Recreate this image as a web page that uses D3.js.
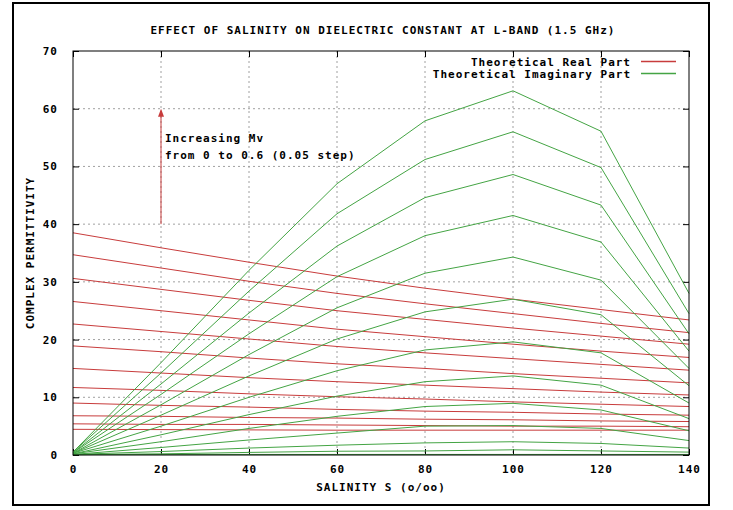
<!DOCTYPE html>
<html lang="en">
<head>
    <meta charset="UTF-8">
    <title>Effect of Salinity on Dielectric Constant at L-Band</title>
    <script src="https://d3js.org/d3.v7.min.js"></script>
    <style>
        body { margin: 0; background: #fff; }
        text { font-family: "DejaVu Sans Mono", "Liberation Mono", monospace; font-weight: bold; font-size: 11px; letter-spacing: 1px; fill: #000; }
    </style>
</head>
<body>
    <svg id="chart" width="733" height="510"></svg>

    <script>
        // salinity (o/oo) sample points
        const salinity = [0, 20, 40, 60, 80, 100, 120, 140];

        // theoretical real part, one row per Mv (high to low)
        const realPart = [
            [38.5, 35.9, 33.4, 31.0, 28.9, 27.0, 25.2, 23.4],
            [34.7, 32.4, 30.1, 28.0, 26.2, 24.5, 22.8, 21.2],
            [30.6, 28.7, 26.8, 25.0, 23.5, 22.0, 20.6, 19.2],
            [26.6, 25.0, 23.4, 21.8, 20.5, 19.2, 18.0, 16.9],
            [22.7, 21.4, 20.1, 18.8, 17.7, 16.7, 15.7, 14.7],
            [18.9, 17.9, 16.8, 15.8, 15.0, 14.1, 13.3, 12.5],
            [15.0, 14.2, 13.4, 12.7, 12.1, 11.5, 10.9, 10.4],
            [11.7, 11.2, 10.6, 10.1, 9.7, 9.2, 8.8, 8.4],
            [9.0, 8.6, 8.3, 7.9, 7.6, 7.4, 7.1, 6.9],
            [6.8, 6.7, 6.5, 6.4, 6.2, 6.1, 5.9, 5.8],
            [5.4, 5.3, 5.3, 5.2, 5.1, 5.0, 5.0, 4.9],
            [4.45, 4.4, 4.35, 4.3, 4.3, 4.3, 4.3, 4.3]
        ];

        // theoretical imaginary part, one row per Mv (high to low)
        const imagPart = [
            [0.5, 16.0, 32.0, 47.0, 57.9, 63.1, 56.1, 28.0],
            [0.5, 14.2, 28.4, 41.8, 51.2, 56.0, 49.8, 24.5],
            [0.4, 12.3, 24.6, 36.2, 44.6, 48.6, 43.3, 21.0],
            [0.4, 10.5, 21.0, 30.9, 38.0, 41.5, 36.9, 18.0],
            [0.3, 8.7, 17.4, 25.5, 31.5, 34.3, 30.3, 15.0],
            [0.3, 6.9, 13.7, 20.1, 24.8, 27.0, 24.3, 12.0],
            [0.3, 5.0, 10.0, 14.6, 18.2, 19.6, 17.7, 9.0],
            [0.2, 3.5, 7.0, 10.2, 12.7, 13.7, 12.1, 6.3],
            [0.2, 2.3, 4.6, 6.7, 8.4, 8.95, 7.8, 4.2],
            [0.1, 1.3, 2.6, 3.8, 5.0, 5.1, 4.6, 2.5],
            [0.1, 0.6, 1.2, 1.7, 2.1, 2.3, 2.0, 1.2],
            [0.05, 0.2, 0.45, 0.65, 0.7, 0.9, 0.7, 0.5],
            [0.1, 0.1, 0.1, 0.1, 0.1, 0.1, 0.1, 0.1]
        ];

        const xTicks = [0, 20, 40, 60, 80, 100, 120, 140];
        const yTicks = [0, 10, 20, 30, 40, 50, 60, 70];

        // arrow annotation (data coords)
        const arrowFrom = [20, 40];
        const arrowTo = [20, 60];

        const realColor = "#c83c3c";
        const imagColor = "#44a444";

        const svg = d3.select("#chart");
        const width = +svg.attr("width");
        const height = +svg.attr("height");

        const margin = { top: 51, right: 44, bottom: 55, left: 73 };
        const graphWidth = width - margin.left - margin.right;
        const graphHeight = height - margin.top - margin.bottom;

        // outer frame
        svg.append("rect")
            .attr("x", 13).attr("y", 3)
            .attr("width", 696).attr("height", 502)
            .attr("fill", "none")
            .attr("stroke", "#000")
            .attr("stroke-width", 2);

        const g = svg.append("g")
            .attr("transform", `translate(${margin.left},${margin.top})`);

        const x = d3.scaleLinear().domain([0, 140]).range([0, graphWidth]);
        const y = d3.scaleLinear().domain([0, 70]).range([graphHeight, 0]);

        // grid
        g.append("g")
            .selectAll("line")
            .data(xTicks.slice(1, -1))
            .enter()
            .append("line")
            .attr("x1", d => x(d)).attr("x2", d => x(d))
            .attr("y1", 0).attr("y2", graphHeight)
            .attr("stroke", "#a0a0a0")
            .attr("stroke-dasharray", "2,3");

        g.append("g")
            .selectAll("line")
            .data(yTicks.slice(1, -1))
            .enter()
            .append("line")
            .attr("x1", 0).attr("x2", graphWidth)
            .attr("y1", d => y(d)).attr("y2", d => y(d))
            .attr("stroke", "#a0a0a0")
            .attr("stroke-dasharray", "2,3");

        // axes (ticks inward, mirrored)
        const bottomAxis = g.append("g")
            .attr("transform", `translate(0,${graphHeight})`)
            .call(d3.axisBottom(x).tickValues(xTicks).tickSize(-6).tickPadding(10));
        const topAxis = g.append("g")
            .call(d3.axisTop(x).tickValues(xTicks).tickSize(-6).tickFormat(""));
        const leftAxis = g.append("g")
            .call(d3.axisLeft(y).tickValues(yTicks).tickSize(-6).tickPadding(15));
        const rightAxis = g.append("g")
            .attr("transform", `translate(${graphWidth},0)`)
            .call(d3.axisRight(y).tickValues(yTicks).tickSize(-6).tickFormat(""));

        [bottomAxis, topAxis, leftAxis, rightAxis].forEach(a => {
            a.select(".domain").remove();
            a.selectAll("line").attr("stroke", "#000");
            a.selectAll("text")
                .style("font-family", "DejaVu Sans Mono, monospace")
                .style("font-size", "11px")
                .style("font-weight", "bold")
                .style("letter-spacing", "1px");
        });

        const line = d3.line()
            .x((d, i) => x(salinity[i]))
            .y(d => y(d));

        g.append("g")
            .selectAll("path")
            .data(realPart)
            .enter()
            .append("path")
            .attr("d", line)
            .attr("fill", "none")
            .attr("stroke", realColor)
            .attr("stroke-width", 1);

        g.append("g")
            .selectAll("path")
            .data(imagPart)
            .enter()
            .append("path")
            .attr("d", line)
            .attr("fill", "none")
            .attr("stroke", imagColor)
            .attr("stroke-width", 1);

        // plot border
        g.append("rect")
            .attr("width", graphWidth)
            .attr("height", graphHeight)
            .attr("fill", "none")
            .attr("stroke", "#000")
            .attr("stroke-width", 1);

        // arrow + annotation
        const ax = x(arrowFrom[0]);
        const ay0 = y(arrowFrom[1]);
        const ay1 = y(arrowTo[1]);
        g.append("line")
            .attr("x1", ax).attr("x2", ax)
            .attr("y1", ay0).attr("y2", ay1 + 2)
            .attr("stroke", realColor);
        g.append("path")
            .attr("d", `M${ax},${ay1} L${ax - 3},${ay1 + 8} L${ax + 3},${ay1 + 8} Z`)
            .attr("fill", realColor);

        g.append("text")
            .attr("x", ax + 4)
            .attr("y", y(54.2))
            .text("Increasing Mv");
        g.append("text")
            .attr("x", ax + 4)
            .attr("y", y(51.3))
            .text("from 0 to 0.6 (0.05 step)");

        // legend
        const legendLabels = ["Theoretical Real Part", "Theoretical Imaginary Part"];
        const legendColors = [realColor, imagColor];
        const legendG = svg.append("g");
        legendLabels.forEach((label, i) => {
            legendG.append("text")
                .attr("x", 631)
                .attr("y", 65.5 + i * 12.5)
                .attr("text-anchor", "end")
                .text(label);
            legendG.append("path")
                .attr("d", `M641,${61.5 + i * 12}H676`)
                .attr("fill", "none")
                .attr("stroke", legendColors[i])
                .attr("stroke-width", 1.5);
        });

        // titles
        svg.append("text")
            .attr("x", 383)
            .attr("y", 34)
            .attr("text-anchor", "middle")
            .text("EFFECT OF SALINITY ON DIELECTRIC CONSTANT AT L-BAND (1.5 GHz)");

        svg.append("text")
            .attr("x", 381)
            .attr("y", 491)
            .attr("text-anchor", "middle")
            .text("SALINITY S (o/oo)");

        svg.append("text")
            .attr("text-anchor", "middle")
            .attr("transform", `translate(34, ${margin.top + graphHeight / 2}) rotate(-90)`)
            .text("COMPLEX PERMITTIVITY");
    </script>
</body>
</html>
